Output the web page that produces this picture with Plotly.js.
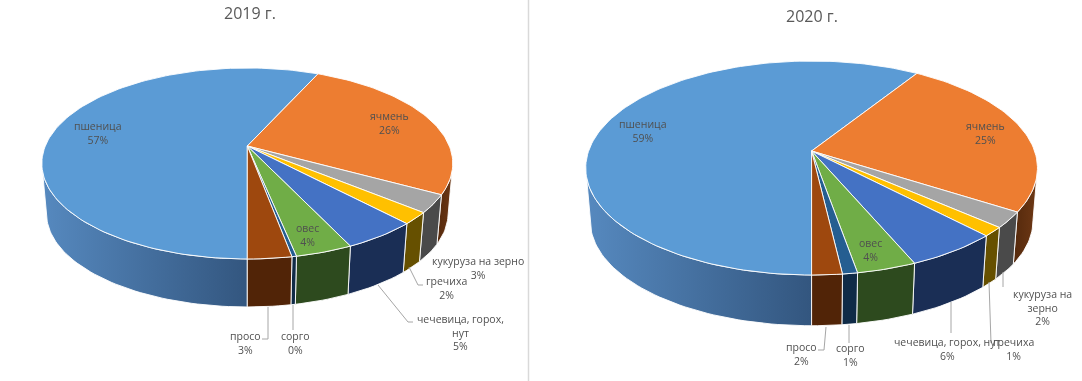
<!DOCTYPE html>
<html><head><meta charset="utf-8">
<script src="https://cdn.plot.ly/plotly-3.0.1.min.js"></script>
<style>html,body{margin:0;padding:0;background:#fff;overflow:hidden}#c{width:1082px;height:381px;filter:blur(0.6px)}</style>
</head><body><div id="c"></div>
<script>
const categories = ['пшеница','ячмень','кукуруза на зерно','гречиха','чечевица, горох, нут','овес','сорго','просо'];
const shares2019 = [56.7, 26.3, 3, 2, 5, 3.8, 0.3, 2.9];
const shares2020 = [59, 25, 2.4, 1.4, 5.75, 3.67, 0.92, 1.86];
const topColors = ['#5b9bd5','#ed7d31','#a5a5a5','#ffc000','#4472c4','#70ad47','#255e91','#9e480e'];
const wallColors = ['#3a5f8a','#5c3012','#4a4a4a','#665000','#1a2e55','#2d4a1e','#0f2b47','#512407'];
const wheatWall = ['#5689bf','#33567f'];
const barleyWall = ['#6e3815','#54290c'];

const panels = [
  {title:'2019 г.', titleX:250, titleY:13, values:shares2019, cx:247.3, cy:146, r:202, b:92.3, k:0.183, s:0.977, dy:50.6,
   labels:[
    ['пшеница',97.5,132.5],['ячмень',389,122.5],['кукуруза на зерно',477.5,267.5],['гречиха',446,288],
    ['чечевица, горох,<br>нут',460,332.5],['овес',307.5,235],['сорго',295,342.5],['просо',245.5,342.5]],
   leaders:[
    [[268,268,262],[307,339,339]],[[293,293],[305,330]],
    [[378,408,413],[285,322,322]],[[409,418,423],[267,285,285]]]},
  {title:'2020 г.', titleX:812, titleY:16, values:shares2020, cx:811.6, cy:151, r:223, b:104.3, k:0.159, s:0.98, dy:53.2,
   labels:[
    ['пшеница',642,130.5],['ячмень',985.5,132.5],['кукуруза на<br>зерно',1042.5,307],['гречиха',1013,348.5],
    ['чечевица, горох, нут',947,348.5],['овес',870,249.5],['сорго',850,354.5],['просо',801,353.5]],
   leaders:[
    [[826,824,818],[327,350,350]],[[849,849],[325,343]],
    [[951,951],[302,333]],[[989,991],[282,343]],[[1003,1003],[272,287]]]}
];

const DEG = Math.PI/180;
const traces = [];
const annotations = [];

function project(p, deg, bottom){
  const u = Math.sin(deg*DEG), v = -Math.cos(deg*DEG), w = 1 - p.k*v;
  const dx = p.r*u/w, dy = p.b*v/w;
  return bottom ? [p.cx + p.s*dx, p.cy + p.dy + p.s*dy] : [p.cx + dx, p.cy + dy];
}
function arc(p, a0, a1, bottom){
  const n = Math.max(2, Math.ceil(Math.abs(a1-a0)/1.5));
  const pts = [];
  for(let i=0;i<=n;i++) pts.push(project(p, a0+(a1-a0)*i/n, bottom));
  return pts;
}
function poly(pts, name, extra){
  return Object.assign({type:'scatter', mode:'lines', x:pts.map(q=>q[0]), y:pts.map(q=>q[1]),
    fill:'toself', name:name, hoverinfo:'name', showlegend:false}, extra);
}

panels.forEach(p=>{
  const total = p.values.reduce((a,b)=>a+b,0);
  let ang = 180;
  const spans = p.values.map(v=>{const a0=ang; ang+=v/total*360; return [a0,ang];});
  const visA = 90+Math.asin(p.k)/DEG, visB = 270-Math.asin(p.k)/DEG;
  spans.forEach((s,i)=>{
    [[s[0],s[1]],[s[0]-360,s[1]-360]].forEach(r=>{
      const a0=Math.max(r[0],visA), a1=Math.min(r[1],visB);
      if(a1<=a0) return;
      const pts = arc(p,a0,a1,false).concat(arc(p,a1,a0,true));
      pts.push(pts[0]);
      const extra = {line:{color:'#ffffff',width:0.9}, fillcolor:wallColors[i]};
      if(i===0) extra.fillgradient={type:'horizontal',colorscale:[[0,wheatWall[0]],[1,wheatWall[1]]]};
      if(i===1) extra.fillgradient={type:'horizontal',colorscale:[[0,barleyWall[1]],[1,barleyWall[0]]]};
      traces.push(poly(pts,categories[i],extra));
    });
  });
  spans.forEach((s,i)=>{
    const pts=[[p.cx,p.cy]].concat(arc(p,s[0],s[1],false));
    pts.push([p.cx,p.cy]);
    traces.push(poly(pts,categories[i],{line:{color:'#ffffff',width:0.9},fillcolor:topColors[i]}));
  });
  p.leaders.forEach(l=>traces.push({type:'scatter',mode:'lines',x:l[0],y:l[1],hoverinfo:'skip',showlegend:false,line:{color:'#a6a6a6',width:1}}));
  p.labels.forEach((l,i)=>annotations.push({x:l[1],y:l[2],xref:'x',yref:'y',showarrow:false,align:'center',
    xanchor:'center',yanchor:'middle',text:l[0]+'<br>'+Math.round(p.values[i])+'%',
    font:{family:'"Open Sans","Noto Sans",sans-serif',size:10.5,color:'#505050'}}));
  annotations.push({x:p.titleX,y:p.titleY,xref:'x',yref:'y',showarrow:false,xanchor:'center',yanchor:'middle',
    text:p.title,font:{family:'"Open Sans","Noto Sans",sans-serif',size:16,color:'#595959'}});
});

const layout = {
  width:1082,height:381,margin:{l:0,r:0,t:0,b:0},paper_bgcolor:'#fff',plot_bgcolor:'#fff',showlegend:false,
  xaxis:{range:[0,1082],visible:false,fixedrange:true},
  yaxis:{range:[381,0],visible:false,fixedrange:true},
  annotations:annotations,
  shapes:[{type:'line',x0:528.5,x1:528.5,y0:0,y1:381,xref:'x',yref:'y',line:{color:'#d9d9d9',width:1.5}}]
};
Plotly.newPlot('c',traces,layout,{displayModeBar:false,responsive:false});
</script></body></html>
